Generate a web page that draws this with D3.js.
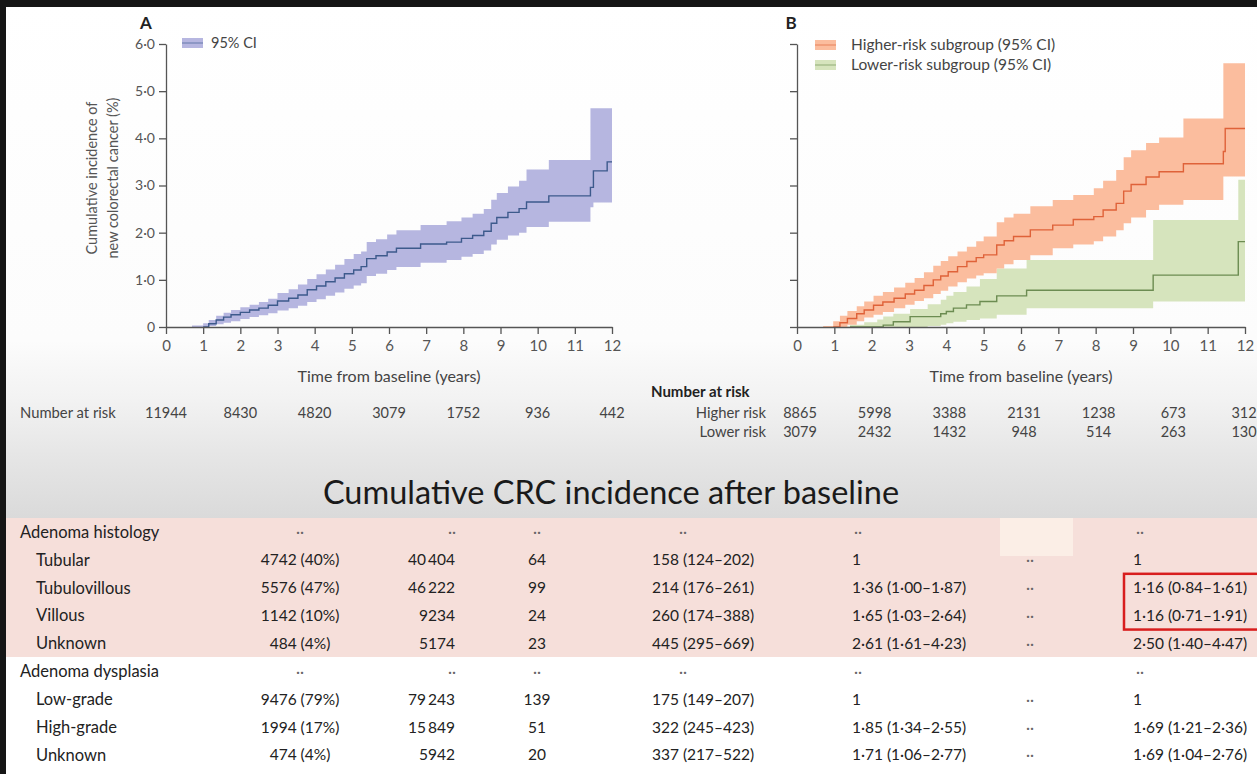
<!DOCTYPE html>
<html>
<head>
<meta charset="utf-8">
<script src="https://cdn.jsdelivr.net/npm/d3@7"></script>
<style>
  html, body { margin: 0; padding: 0; background: #fff; }
  svg { display: block; }
  text { font-family: Lato, "Open Sans", "DejaVu Sans", sans-serif; }
</style>
</head>
<body>
<svg id="fig" width="1257" height="774"></svg>
<script>
// ---------- axis ticks ----------
const yearTicks = [0, 1, 2, 3, 4, 5, 6, 7, 8, 9, 10, 11, 12];
const incidenceTicks = [0, 1, 2, 3, 4, 5, 6];

// ---------- number at risk ----------
const riskYears = [0, 2, 4, 6, 8, 10, 12];
const atRiskAll = [11944, 8430, 4820, 3079, 1752, 936, 442];
const atRiskHigher = [8865, 5998, 3388, 2131, 1238, 673, 312];
const atRiskLower = [3079, 2432, 1432, 948, 514, 263, 130];

// ---------- panel A: all patients (cumulative incidence %, 95% CI) ----------
const allTime = [0.70, 1.00, 1.15, 1.35, 1.55, 1.75, 2.00, 2.25, 2.50, 2.75, 3.00, 3.30, 3.55, 3.80, 4.05, 4.30, 4.55, 4.80, 5.05, 5.25, 5.40, 5.65, 5.95, 6.20, 6.85, 7.55, 7.95, 8.25, 8.55, 8.75, 8.90, 9.20, 9.50, 9.70, 10.30, 11.42, 11.50, 11.87, 12.00];
const allEst  = [null, 0.00, 0.07, 0.15, 0.21, 0.26, 0.31, 0.36, 0.40, 0.46, 0.55, 0.61, 0.68, 0.79, 0.87, 0.96, 1.04, 1.13, 1.21, 1.28, 1.45, 1.51, 1.59, 1.67, 1.76, 1.80, 1.88, 1.94, 2.03, 2.20, 2.32, 2.43, 2.51, 2.65, 2.78, 2.96, 3.31, 3.50, 3.50];
const allLo   = [0.00, 0.00, 0.02, 0.06, 0.09, 0.12, 0.17, 0.21, 0.25, 0.29, 0.35, 0.40, 0.45, 0.53, 0.59, 0.66, 0.73, 0.81, 0.88, 0.93, 1.08, 1.13, 1.21, 1.27, 1.36, 1.42, 1.49, 1.55, 1.62, 1.75, 1.85, 1.94, 2.00, 2.12, 2.23, 2.54, 2.64, 2.64, 2.64];
const allHi   = [0.03, 0.08, 0.15, 0.24, 0.30, 0.36, 0.42, 0.47, 0.53, 0.60, 0.72, 0.80, 0.90, 1.02, 1.12, 1.22, 1.32, 1.44, 1.55, 1.60, 1.80, 1.86, 1.96, 2.05, 2.16, 2.24, 2.32, 2.40, 2.50, 2.70, 2.84, 2.98, 3.10, 3.34, 3.54, 4.64, 4.64, 4.64, 4.64];

// ---------- panel B: higher-risk subgroup ----------
const higherTime = [0.70, 0.97, 1.15, 1.35, 1.60, 1.80, 2.05, 2.30, 2.60, 2.90, 3.15, 3.40, 3.65, 3.85, 4.05, 4.30, 4.55, 4.80, 5.00, 5.35, 5.55, 5.80, 6.25, 6.85, 7.40, 7.95, 8.20, 8.55, 8.75, 8.95, 9.35, 9.70, 10.35, 11.42, 11.47, 12.00];
const higherEst  = [null, 0.00, 0.09, 0.18, 0.28, 0.36, 0.46, 0.53, 0.61, 0.70, 0.78, 0.88, 1.00, 1.08, 1.17, 1.28, 1.39, 1.47, 1.53, 1.74, 1.83, 1.92, 2.06, 2.16, 2.28, 2.34, 2.48, 2.62, 2.88, 3.02, 3.18, 3.29, 3.46, 3.72, 4.21, 4.21];
const higherLo   = [0.00, 0.00, 0.00, 0.05, 0.12, 0.20, 0.26, 0.32, 0.40, 0.47, 0.55, 0.61, 0.70, 0.77, 0.86, 0.95, 1.03, 1.09, 1.14, 1.24, 1.33, 1.42, 1.52, 1.67, 1.75, 1.82, 1.92, 2.05, 2.20, 2.32, 2.48, 2.59, 2.69, 3.19, 3.19, 3.19];
const higherHi   = [0.02, 0.12, 0.24, 0.34, 0.44, 0.54, 0.66, 0.74, 0.84, 0.94, 1.04, 1.16, 1.30, 1.40, 1.50, 1.60, 1.70, 1.82, 1.92, 2.22, 2.32, 2.40, 2.56, 2.69, 2.80, 2.94, 3.10, 3.33, 3.60, 3.75, 3.90, 4.02, 4.42, 5.59, 5.59, 5.59];

// ---------- panel B: lower-risk subgroup ----------
const lowerTime = [1.33, 1.42, 1.80, 2.15, 2.31, 2.58, 3.03, 3.50, 3.85, 4.00, 4.19, 4.54, 4.90, 5.35, 6.15, 9.54, 11.82, 12.00];
const lowerEst  = [null, 0.00, 0.00, 0.00, 0.04, 0.11, 0.22, 0.22, 0.28, 0.33, 0.40, 0.47, 0.54, 0.66, 0.78, 1.10, 1.81, 1.81];
const lowerLo   = [0.00, 0.00, 0.00, 0.00, 0.00, 0.00, 0.00, 0.02, 0.05, 0.08, 0.11, 0.15, 0.18, 0.26, 0.40, 0.54, 0.54, 0.54];
const lowerHi   = [0.01, 0.05, 0.10, 0.16, 0.22, 0.28, 0.38, 0.48, 0.58, 0.66, 0.74, 0.86, 1.02, 1.24, 1.42, 2.27, 3.12, 3.12];

// ---------- table ----------
const rowLabels = ["Adenoma histology", "Tubular", "Tubulovillous", "Villous", "Unknown", "Adenoma dysplasia", "Low-grade", "High-grade", "Unknown"];
const rowIsSection = [true, false, false, false, false, true, false, false, false];
const patients = ["··", "4742 (40%)", "5576 (47%)", "1142 (10%)", "484 (4%)", "··", "9476 (79%)", "1994 (17%)", "474 (4%)"];
const personYears = ["··", "40\u2009404", "46\u2009222", "9234", "5174", "··", "79\u2009243", "15\u2009849", "5942"];
const crcCases = ["··", "64", "99", "24", "23", "··", "139", "51", "20"];
const incidenceRate = ["··", "158 (124–202)", "214 (176–261)", "260 (174–388)", "445 (295–669)", "··", "175 (149–207)", "322 (245–423)", "337 (217–522)"];
const univariableHR = ["··", "1", "1·36 (1·00–1·87)", "1·65 (1·03–2·64)", "2·61 (1·61–4·23)", "··", "1", "1·85 (1·34–2·55)", "1·71 (1·06–2·77)"];
const pValue = ["", "··", "··", "··", "··", "", "··", "··", "··"];
const multivariableHR = ["··", "1", "1·16 (0·84–1·61)", "1·16 (0·71–1·91)", "2·50 (1·40–4·47)", "··", "1", "1·69 (1·21–2·36)", "1·69 (1·04–2·76)"];
const highlightedRows = [2, 3];

const tableTitle = "Cumulative CRC incidence after baseline";

// ================= drawing =================
const svg = d3.select("#fig");
const W = 1257, H = 774;

// page background: white fading to grey behind the title
const defs = svg.append("defs");
const bg = defs.append("linearGradient").attr("id", "pageFade")
  .attr("gradientUnits", "userSpaceOnUse").attr("x1", 0).attr("y1", 0).attr("x2", 0).attr("y2", 518);
[[0, "#ffffff"], [340, "#fcfcfc"], [400, "#f2f2f2"], [455, "#e6e6e6"], [518, "#dadada"]]
  .forEach(([o, c]) => bg.append("stop").attr("offset", o / 518).attr("stop-color", c));
svg.append("rect").attr("width", W).attr("height", 518).attr("fill", "url(#pageFade)");
svg.append("rect").attr("y", 518).attr("width", W).attr("height", H - 518).attr("fill", "#ffffff");

const yScale = d3.scaleLinear().domain([0, 6]).range([327, 44]);
const xA = d3.scaleLinear().domain([0, 12]).range([166, 612]);
const xB = d3.scaleLinear().domain([0, 12]).range([797, 1245]);

const axisColor = "#555";
const decimal = d => d === 0 ? "0" : d.toFixed(1).replace(".", "·");

function styleAxis(g, size) {
  g.selectAll("path.domain").attr("stroke", axisColor).attr("stroke-width", 1.3);
  g.selectAll(".tick line").attr("stroke", axisColor).attr("stroke-width", 1.3);
  g.selectAll(".tick text").attr("fill", "#555").attr("font-size", size)
    .attr("font-family", "Lato, 'Open Sans', sans-serif");
}

function drawPanel(x, showYLabels) {
  const gy = svg.append("g").attr("transform", `translate(${x(0)},0)`)
    .call(d3.axisLeft(yScale).tickValues(incidenceTicks).tickSize(7).tickSizeOuter(0)
      .tickPadding(4).tickFormat(showYLabels ? decimal : () => ""));
  styleAxis(gy, 14);
  const gx = svg.append("g").attr("transform", `translate(0,${yScale(0)})`)
    .call(d3.axisBottom(x).tickValues(yearTicks).tickSize(7).tickSizeOuter(0)
      .tickPadding(6).tickFormat(d3.format("d")));
  styleAxis(gx, 15);
  svg.append("text").attr("x", (x(0) + x(12)) / 2).attr("y", 382)
    .attr("text-anchor", "middle").attr("font-size", 16).attr("fill", "#444")
    .text("Time from baseline (years)");
}

function drawCurve(x, time, est, lo, hi, bandColor, lineColor) {
  const pts = time.map((t, i) => ({ t, e: est[i], l: lo[i], h: hi[i] }));
  const area = d3.area().curve(d3.curveStepAfter)
    .x(d => x(d.t)).y0(d => yScale(d.l)).y1(d => yScale(d.h));
  svg.append("path").datum(pts).attr("d", area).attr("fill", bandColor);
  const line = d3.line().curve(d3.curveStepAfter).defined(d => d.e != null)
    .x(d => x(d.t)).y(d => yScale(d.e));
  svg.append("path").datum(pts).attr("d", line).attr("fill", "none")
    .attr("stroke", lineColor).attr("stroke-width", 1.4);
}

const colA = { band: "#b6b6e0", line: "#3d5a8c" };
const colHigh = { band: "#fbbd9e", line: "#df6239" };
const colLow = { band: "#d6e4bd", line: "#6c8c52" };

// ---- Panel A ----
drawCurve(xA, allTime, allEst, allLo, allHi, colA.band, colA.line);
drawPanel(xA, true);
svg.append("text").attr("x", 146).attr("y", 29).attr("text-anchor", "middle")
  .attr("font-size", 17).attr("font-weight", 700).attr("fill", "#222").text("A");

const yTitle = svg.append("text").attr("transform", "translate(0,178) rotate(-90)")
  .attr("text-anchor", "middle").attr("font-size", 14.5).attr("fill", "#555");
yTitle.append("tspan").attr("x", 0).attr("y", 97).text("Cumulative incidence of");
yTitle.append("tspan").attr("x", 0).attr("y", 118).text("new colorectal cancer (%)");

function legendItem(x0, y0, c, label, size) {
  svg.append("rect").attr("x", x0).attr("y", y0 - 5).attr("width", 21).attr("height", 10).attr("fill", c.band);
  svg.append("line").attr("x1", x0).attr("x2", x0 + 21).attr("y1", y0).attr("y2", y0)
    .attr("stroke", c.line).attr("stroke-width", 1.2).attr("stroke-opacity", 0.55);
  svg.append("text").attr("x", x0 + (size > 15 ? 36 : 29)).attr("y", y0).attr("dy", "0.35em")
    .attr("font-size", size).attr("fill", "#444").text(label);
}
legendItem(182, 43, colA, "95% CI", 14.5);

svg.append("text").attr("x", 20).attr("y", 413).attr("dy", "0.35em")
  .attr("font-size", 14.8).attr("fill", "#444").text("Number at risk");
svg.append("g").selectAll("text").data(riskYears).join("text")
  .attr("x", d => xA(d)).attr("y", 413).attr("dy", "0.35em").attr("text-anchor", "middle")
  .attr("font-size", 14.5).attr("fill", "#444").text((d, i) => atRiskAll[i]);

// ---- Panel B ----
drawCurve(xB, lowerTime, lowerEst, lowerLo, lowerHi, colLow.band, colLow.line);
drawCurve(xB, higherTime, higherEst, higherLo, higherHi, colHigh.band, colHigh.line);
drawPanel(xB, false);
svg.append("text").attr("x", 791).attr("y", 29).attr("text-anchor", "middle")
  .attr("font-size", 17).attr("font-weight", 700).attr("fill", "#222").text("B");
legendItem(815, 45, colHigh, "Higher-risk subgroup (95% CI)", 15.5);
legendItem(815, 65, colLow, "Lower-risk subgroup (95% CI)", 15.5);

svg.append("text").attr("x", 651).attr("y", 392).attr("dy", "0.35em")
  .attr("font-size", 15).attr("font-weight", 700).attr("fill", "#222").text("Number at risk");
[["Higher risk", atRiskHigher, 413], ["Lower risk", atRiskLower, 432]].forEach(([lab, vals, y]) => {
  svg.append("text").attr("x", 766).attr("y", y).attr("dy", "0.35em").attr("text-anchor", "end")
    .attr("font-size", 14.8).attr("fill", "#444").text(lab);
  svg.append("g").selectAll("text").data(riskYears).join("text")
    .attr("x", d => xB(d) - (d === 12 ? 1 : -3)).attr("y", y).attr("dy", "0.35em").attr("text-anchor", "middle")
    .attr("font-size", 14.5).attr("fill", "#444").text((d, i) => vals[i]);
});

// ---- Table ----
svg.append("text").attr("x", 611).attr("y", 493).attr("dy", "0.35em").attr("text-anchor", "middle")
  .attr("font-size", 32.5).attr("fill", "#1a1a1a").text(tableTitle);

const rowY = d3.scaleLinear().domain([0, 8]).range([532, 755]);
svg.append("rect").attr("x", 0).attr("y", 518).attr("width", W).attr("height", 139).attr("fill", "#f6dfda");
svg.append("rect").attr("x", 1000).attr("y", 518).attr("width", 73).attr("height", 38).attr("fill", "#fbeee6");

const columns = [
  { vals: patients, x: 300, anchor: "middle", dots: 300 },
  { vals: personYears, x: 455, anchor: "end", dots: 452 },
  { vals: crcCases, x: 537, anchor: "middle", dots: 537 },
  { vals: incidenceRate, x: 652, anchor: "start", dots: 683 },
  { vals: univariableHR, x: 852, anchor: "start", dots: 858 },
  { vals: pValue, x: 1030, anchor: "middle", dots: 1030 },
  { vals: multivariableHR, x: 1133, anchor: "start", dots: 1140 }
];

const tbl = svg.append("g").attr("fill", "#222");
rowLabels.forEach((lab, i) => {
  const y = rowY(i);
  tbl.append("text").attr("x", rowIsSection[i] ? 20 : 36).attr("y", y).attr("dy", "0.35em")
    .attr("font-size", 16.5).text(lab);
  columns.forEach(c => {
    const v = c.vals[i];
    if (!v) return;
    const isDots = v === "··";
    tbl.append("text").attr("x", isDots ? c.dots : c.x).attr("y", y).attr("dy", "0.35em")
      .attr("text-anchor", isDots ? "middle" : c.anchor).attr("font-size", 15.5)
      .attr("fill", isDots ? "#666" : "#222").text(v);
  });
});

// highlight around the multivariable estimates for tubulovillous and villous
const hy0 = (rowY(highlightedRows[0]) + rowY(highlightedRows[0] - 1)) / 2;
const hy1 = (rowY(highlightedRows[1]) + rowY(highlightedRows[1] + 1)) / 2;
svg.append("rect").attr("x", 1124).attr("y", hy0).attr("width", 150).attr("height", hy1 - hy0)
  .attr("fill", "none").attr("stroke", "#d81e1e").attr("stroke-width", 2.5);

// dark frame edges
svg.append("rect").attr("x", 0).attr("y", 0).attr("width", W).attr("height", 7).attr("fill", "#151515");
svg.append("rect").attr("x", 0).attr("y", 0).attr("width", 6).attr("height", H).attr("fill", "#151515");
</script>
</body>
</html>
